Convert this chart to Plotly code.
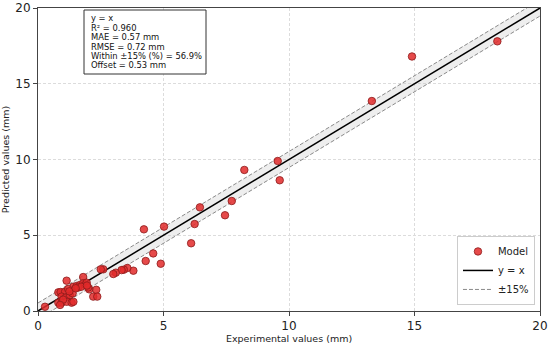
import plotly.graph_objects as go

# Data
exp_vals = [18.3, 14.9, 13.3, 9.55, 9.63, 8.22, 7.72, 7.45, 6.45, 6.24, 6.1, 5.02, 4.22, 4.59, 4.29, 4.89,
            3.8, 3.56, 3.42, 3.33, 3.1, 3.0, 2.6, 2.5, 2.32, 2.2, 2.36, 0.28, 1.14, 1.8,
            0.81, 0.9, 1.08, 1.41, 1.54, 1.67, 1.8, 1.87, 1.94, 2.04, 0.94, 1.12, 1.27, 1.38,
            0.81, 0.94, 1.14, 1.34, 1.41, 1.0, 1.2, 1.6, 1.72, 2.0, 0.88, 1.25, 1.5, 1.95]
pred_vals = [17.8, 16.8, 13.86, 9.9, 8.63, 9.31, 7.26, 6.32, 6.84, 5.74, 4.47, 5.57, 5.39, 3.8, 3.3, 3.12,
             2.66, 2.84, 2.73, 2.7, 2.53, 2.44, 2.75, 2.75, 1.4, 0.95, 0.95, 0.28, 2.0, 2.24,
             1.23, 1.25, 1.28, 1.6, 1.65, 1.72, 1.83, 1.72, 1.87, 1.43, 0.95, 0.9, 1.06, 1.17,
             0.55, 0.55, 0.61, 0.55, 0.61, 0.75, 1.45, 1.55, 1.6, 1.55, 0.4, 1.3, 1.5, 1.68]
line_x = [0, 20]
offset = 0.53
stats_lines = ["y = x", "R² = 0.960", "MAE = 0.57 mm", "RMSE = 0.72 mm",
               "Within ±15% (%) = 56.9%", "Offset = 0.53 mm"]
ticks = [0, 5, 10, 15, 20]

FONT = "DejaVu Sans"
W, H = 550, 346
ML, MR, MT, MB = 38, 10, 8, 35
PW, PH = W - ML - MR, H - MT - MB


def px_x(px):
    return (px - ML) / PW


def px_y(py):
    return (H - MB - py) / PH


upper = [v + offset for v in line_x]
lower = [v - offset for v in line_x]

fig = go.Figure()
fig.add_trace(go.Scatter(x=line_x, y=lower, mode="lines", line=dict(width=0),
                         showlegend=False, hoverinfo="skip"))
fig.add_trace(go.Scatter(x=line_x, y=upper, mode="lines", line=dict(width=0),
                         fill="tonexty", fillcolor="rgba(200,200,200,0.3)",
                         showlegend=False, hoverinfo="skip"))
fig.add_trace(go.Scatter(x=line_x, y=upper, mode="lines", name="±15%",
                         line=dict(color="#8a8a8a", width=1, dash="4px,2px"), legendrank=3))
fig.add_trace(go.Scatter(x=line_x, y=lower, mode="lines", showlegend=False,
                         line=dict(color="#8a8a8a", width=1, dash="4px,2px")))
fig.add_trace(go.Scatter(x=line_x, y=line_x, mode="lines", name="y = x",
                         line=dict(color="black", width=1.5), legendrank=2))
fig.add_trace(go.Scatter(x=exp_vals, y=pred_vals, mode="markers", name="Model",
                         marker=dict(size=7.5, color="rgba(226,42,42,0.85)",
                                     line=dict(color="#8b1a1a", width=0.8)),
                         legendrank=1))

axis_common = dict(range=[0, 20], tickvals=ticks, showline=True, mirror=True,
                   linecolor="#444", linewidth=1, ticks="outside", ticklen=4,
                   tickcolor="#444", showgrid=True, gridcolor="#dcdcdc",
                   griddash="3px,2px", gridwidth=0.8, zeroline=False, automargin=False,
                   tickfont=dict(family=FONT, size=12, color="#222"))

annotations = []
y0 = 18.3
for i, line in enumerate(stats_lines):
    annotations.append(dict(xref="paper", yref="paper", x=px_x(89), y=px_y(y0 + 9.4 * i),
                            xanchor="left", yanchor="middle", align="left", showarrow=False,
                            text=line, font=dict(family=FONT, size=8.4, color="#111")))

fig.update_layout(
    width=W, height=H,
    margin=dict(l=ML, r=MR, t=MT, b=MB),
    plot_bgcolor="white", paper_bgcolor="white",
    font=dict(family=FONT, color="#222"),
    xaxis=dict(title=dict(text="Experimental values (mm)", font=dict(family=FONT, size=9.5), standoff=2),
               **axis_common),
    yaxis=dict(title=dict(text="Predicted values (mm)", font=dict(family=FONT, size=9.5), standoff=4),
               **axis_common),
    legend=dict(x=0.99, y=0.02, xanchor="right", yanchor="bottom", traceorder="normal",
                bgcolor="rgba(255,255,255,0.85)", bordercolor="#cccccc", borderwidth=1,
                font=dict(family=FONT, size=10), tracegroupgap=0, itemwidth=30),
    shapes=[dict(type="rect", xref="paper", yref="paper", x0=px_x(84), x1=px_x(206),
                 y0=px_y(74), y1=px_y(10), line=dict(color="#333", width=1),
                 fillcolor="white", layer="above")],
    annotations=annotations,
)

fig.write_html("out.html", config={"displayModeBar": False},
               post_script="document.body.style.margin='0';")
